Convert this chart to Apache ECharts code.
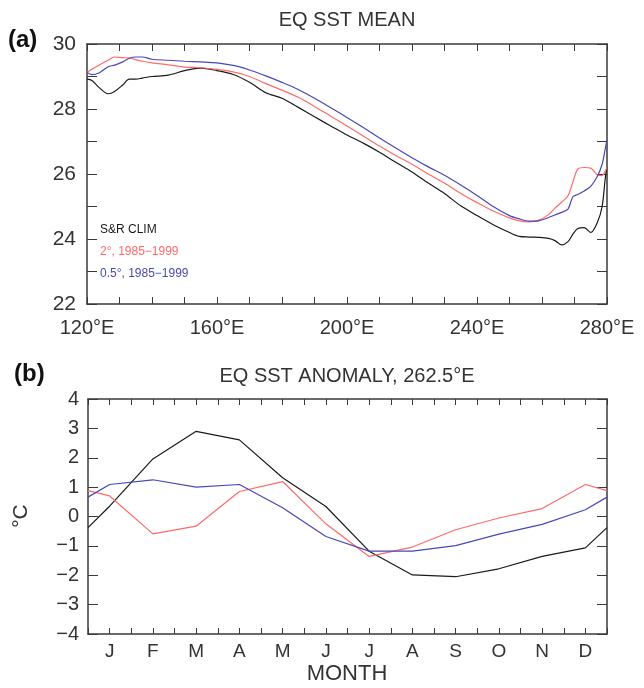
<!DOCTYPE html>
<html>
<head>
<meta charset="utf-8">
<script src="https://cdn.jsdelivr.net/npm/echarts@6/dist/echarts.min.js"></script>
<style>
  html, body { margin: 0; padding: 0; background: #fff; }
  #chart { width: 644px; height: 688px; }
</style>
</head>
<body>
<div id="chart"></div>
<script>
// panel (a): equatorial SST mean along longitude
const lonTop = [120, 121.5, 123.5, 126.5, 128.5, 131, 133, 135, 137, 140, 145, 150, 155, 160, 165, 170, 175,
  180, 185, 190, 195, 200, 205, 210, 215, 220, 225, 230, 235, 240, 245, 250, 253, 256, 259, 262, 264, 266,
  268, 269.5, 271, 273, 275, 277, 278.5, 279.5, 280]
const sstClim = [28.92, 28.88, 28.68, 28.47, 28.54, 28.74, 28.92, 28.92, 28.95, 29.0, 29.04, 29.18, 29.26, 29.18, 29.06, 28.82, 28.5,
  28.33, 28.05, 27.76, 27.48, 27.2, 26.95, 26.67, 26.36, 26.06, 25.72, 25.4, 25.02, 24.72, 24.44, 24.2, 24.08, 24.06, 24.05, 24.02, 23.95, 23.82,
  23.92, 24.15, 24.32, 24.35, 24.2, 24.5, 25.0, 25.9, 26.2]
const sst2deg = [29.12, 29.22, 29.34, 29.5, 29.6, 29.58, 29.57, 29.52, 29.47, 29.42, 29.36, 29.29, 29.27, 29.22, 29.14, 29.0, 28.78,
  28.58, 28.36, 28.08, 27.78, 27.48, 27.17, 26.86, 26.57, 26.3, 26.0, 25.72, 25.4, 25.12, 24.86, 24.65, 24.56, 24.53, 24.58, 24.75, 24.95, 25.13,
  25.33, 25.75, 26.15, 26.2, 26.18, 25.98, 25.95, 26.1, 26.2]
const sst05deg = [29.12, 29.06, 29.1, 29.3, 29.35, 29.45, 29.56, 29.6, 29.6, 29.53, 29.5, 29.47, 29.45, 29.42, 29.34, 29.2, 29.02,
  28.82, 28.6, 28.33, 28.04, 27.74, 27.43, 27.11, 26.8, 26.5, 26.22, 25.96, 25.66, 25.34, 25.0, 24.72, 24.62, 24.55, 24.56, 24.66, 24.74, 24.82,
  24.92, 25.3, 25.37, 25.48, 25.62, 25.92, 26.3, 26.8, 27.05]

// panel (b): monthly anomaly at 262.5E (edge = value where the curve meets the frame)
const months = ['J', 'F', 'M', 'A', 'M', 'J', 'J', 'A', 'S', 'O', 'N', 'D']
const anomClim = [0.35, 1.96, 2.9, 2.61, 1.32, 0.34, -1.18, -1.99, -2.05, -1.78, -1.36, -1.07]
const anom2deg = [0.7, -0.59, -0.33, 0.85, 1.19, -0.25, -1.36, -1.04, -0.45, -0.05, 0.27, 1.09]
const anom05deg = [1.09, 1.25, 1.0, 1.09, 0.3, -0.68, -1.18, -1.18, -0.99, -0.6, -0.27, 0.23]
const anomEdge = [-0.38, 0.88, 0.66]

const legendNames = ['S&R CLIM', '2°, 1985−1999', '0.5°, 1985−1999']
const colors = ['#1a1a1a', '#ff6a6a', '#4848b8']

const font = 'Liberation Sans, Arial, sans-serif'
const axisCol = '#3a3a3a'

const pairs = (xs, ys) => xs.map((x, i) => [x, ys[i]])
const monthly = (ys, edge) => [[0.5, edge]].concat(ys.map((v, i) => [i + 1, v]), [[12.5, edge]])
const minus = (v) => String(v).replace('-', '\u2212')

const chart = echarts.init(document.getElementById('chart'))

const boxAxis = (gridIndex, position, extra) => Object.assign({
  gridIndex,
  position,
  type: 'value',
  axisLine: { show: true, onZero: false, lineStyle: { color: axisCol, width: 1.5 } },
  splitLine: { show: false },
  axisLabel: { show: false },
}, extra)

const option = {
  animation: false,
  textStyle: { fontFamily: font },
  grid: [
    { left: 87, top: 44, right: 37, bottom: 384 },
    { left: 88, top: 399, right: 37, bottom: 54 },
  ],
  xAxis: [
    boxAxis(0, 'bottom', {
      min: 120, max: 280, interval: 40,
      axisTick: { inside: true, length: 7, lineStyle: { color: axisCol } },
      minorTick: { show: true, splitNumber: 4, length: 7, lineStyle: { color: axisCol } },
      axisLabel: { show: true, margin: 14, fontSize: 20, color: '#333', formatter: (v) => v + '°E' },
    }),
    boxAxis(0, 'top', {
      min: 120, max: 280, interval: 40,
      axisTick: { inside: true, length: 7, lineStyle: { color: axisCol } },
      minorTick: { show: true, splitNumber: 4, length: 7, lineStyle: { color: axisCol } },
    }),
    boxAxis(1, 'bottom', {
      min: 0.5, max: 12.5, interval: 0.5,
      axisTick: { inside: true, length: 6, lineStyle: { color: axisCol } },
      axisLabel: {
        show: true, margin: 8, fontSize: 19, color: '#333',
        formatter: (v) => (Number.isInteger(v) ? months[v - 1] : ''),
      },
    }),
    boxAxis(1, 'top', {
      min: 0.5, max: 12.5, interval: 0.5,
      axisTick: { inside: true, length: 6, lineStyle: { color: axisCol } },
    }),
  ],
  yAxis: [
    boxAxis(0, 'left', {
      min: 22, max: 30, interval: 2,
      axisTick: { inside: true, length: 10, lineStyle: { color: axisCol } },
      minorTick: { show: true, splitNumber: 2, length: 10, lineStyle: { color: axisCol } },
      axisLabel: { show: true, margin: 11, fontSize: 21, color: '#333' },
    }),
    boxAxis(0, 'right', {
      min: 22, max: 30, interval: 2,
      axisTick: { inside: true, length: 10, lineStyle: { color: axisCol } },
      minorTick: { show: true, splitNumber: 2, length: 10, lineStyle: { color: axisCol } },
    }),
    boxAxis(1, 'left', {
      min: -4, max: 4, interval: 1,
      axisTick: { inside: true, length: 10, lineStyle: { color: axisCol } },
      axisLabel: { show: true, margin: 9, fontSize: 20, color: '#333', formatter: minus },
    }),
    boxAxis(1, 'right', {
      min: -4, max: 4, interval: 1,
      axisTick: { inside: true, length: 10, lineStyle: { color: axisCol } },
    }),
  ],
  series: [
    { name: legendNames[0], type: 'line', xAxisIndex: 0, yAxisIndex: 0, symbol: 'none', smooth: 0.3, data: pairs(lonTop, sstClim) },
    { name: legendNames[1], type: 'line', xAxisIndex: 0, yAxisIndex: 0, symbol: 'none', smooth: 0.3, data: pairs(lonTop, sst2deg) },
    { name: legendNames[2], type: 'line', xAxisIndex: 0, yAxisIndex: 0, symbol: 'none', smooth: 0.3, data: pairs(lonTop, sst05deg) },
    { name: legendNames[0], type: 'line', xAxisIndex: 2, yAxisIndex: 2, symbol: 'none', data: monthly(anomClim, anomEdge[0]) },
    { name: legendNames[1], type: 'line', xAxisIndex: 2, yAxisIndex: 2, symbol: 'none', data: monthly(anom2deg, anomEdge[1]) },
    { name: legendNames[2], type: 'line', xAxisIndex: 2, yAxisIndex: 2, symbol: 'none', data: monthly(anom05deg, anomEdge[2]) },
  ].map((s, i) => Object.assign(s, { lineStyle: { color: colors[i % 3], width: 1.2 }, itemStyle: { color: colors[i % 3] } })),
  graphic: [
    { type: 'text', x: 347, y: 20, style: { text: 'EQ SST MEAN', font: '20px ' + font, fill: '#333', align: 'center', verticalAlign: 'middle' } },
    { type: 'text', x: 347, y: 376, style: { text: 'EQ SST ANOMALY, 262.5°E', font: '20px ' + font, fill: '#333', align: 'center', verticalAlign: 'middle' } },
    { type: 'text', x: 8, y: 40, style: { text: '(a)', font: 'bold 24px ' + font, fill: '#111', verticalAlign: 'middle' } },
    { type: 'text', x: 14, y: 374, style: { text: '(b)', font: 'bold 24px ' + font, fill: '#111', verticalAlign: 'middle' } },
    { type: 'text', x: 100, y: 230, style: { text: legendNames[0], font: '12px ' + font, fill: colors[0], verticalAlign: 'middle' } },
    { type: 'text', x: 100, y: 252, style: { text: legendNames[1], font: '12px ' + font, fill: colors[1], verticalAlign: 'middle' } },
    { type: 'text', x: 100, y: 274, style: { text: legendNames[2], font: '12px ' + font, fill: colors[2], verticalAlign: 'middle' } },
    { type: 'text', x: 347, y: 674, style: { text: 'MONTH', font: '22px ' + font, fill: '#333', align: 'center', verticalAlign: 'middle' } },
    { type: 'text', x: 21, y: 516, rotation: Math.PI / 2, style: { text: '°C', font: '21px ' + font, fill: '#333', align: 'center', verticalAlign: 'middle' } },
  ],
}

chart.setOption(option)
</script>
</body>
</html>
